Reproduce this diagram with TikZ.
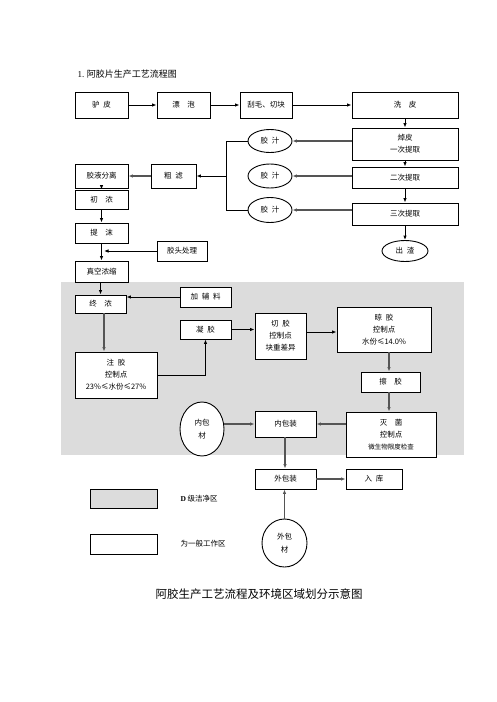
\documentclass[tikz,border=0pt]{standalone}
\usepackage{fontspec}
\setmainfont{Noto Sans CJK SC}
\newfontfamily\latf{Liberation Serif}
\usetikzlibrary{arrows.meta,shapes.geometric}
\definecolor{zone}{HTML}{DCDCDC}
\definecolor{lnk}{HTML}{555555}
\newcommand{\gp}{\hspace{0.5em}}
\tikzset{
  box/.style={draw=black,line width=0.9pt,fill=white,inner sep=1pt,align=center,
    font=\fontsize{7.5}{12}\selectfont},
  oval/.style={draw=black,line width=0.9pt,fill=white,ellipse,inner sep=0pt,align=center,
    font=\fontsize{7.5}{12}\selectfont},
  arr/.style={draw=black,line width=0.9pt,-{Latex[length=4.5pt,width=3.5pt]}},
  garr/.style={draw=lnk,line width=1.5pt,-{Latex[length=4.5pt,width=3.5pt]}},
  ln/.style={draw=black,line width=0.9pt},
}
\begin{document}
\begin{tikzpicture}[x=1pt,y=-1pt]
\useasboundingbox (0,0) rectangle (496,702);
\fill[zone] (61,282) rectangle (464,455);

\node[anchor=west,font=\fontsize{9}{11}\selectfont] (title) at (74,74) {{\latf 1.} 阿胶片生产工艺流程图};

% top row
\node[box,minimum width=53pt,minimum height=26pt] (lvpi) at (101.5,105) {驴\gp 皮};
\node[box,minimum width=53pt,minimum height=26pt] (piaopao) at (183.5,105) {漂\quad 泡};
\node[box,minimum width=52pt,minimum height=26pt] (guamao) at (266,105) {刮毛、切块};
\node[box,minimum width=106pt,minimum height=26pt] (xipi) at (405,105) {洗\quad 皮};

% right column
\node[box,minimum width=106pt,minimum height=32pt] (zhuopi) at (405,144) {焯皮\\一次提取};
\node[box,minimum width=106pt,minimum height=21pt] (erci) at (405,177.5) {二次提取};
\node[box,minimum width=106pt,minimum height=22pt] (sanci) at (405,214) {三次提取};
\node[oval,minimum width=46pt,minimum height=21pt] (chuzha) at (405,251) {出\gp 渣};

% ellipses
\node[oval,minimum width=44pt,minimum height=23pt] (jz1) at (270,141) {胶\gp 汁};
\node[oval,minimum width=44pt,minimum height=24pt] (jz2) at (270,176) {胶\gp 汁};
\node[oval,minimum width=44pt,minimum height=25pt] (jz3) at (270,210) {胶\gp 汁};

% left column
\node[box,minimum width=53pt,minimum height=24pt] (fenli) at (101.5,176) {胶液分离};
\node[box,minimum width=45pt,minimum height=24pt] (culv) at (173.5,176) {粗\gp 滤};
\node[box,minimum width=53pt,minimum height=19pt] (chunong) at (101.5,199.5) {初\quad 浓};
\node[box,minimum width=53pt,minimum height=20pt] (timo) at (101.5,233) {提\quad 沫};
\node[box,minimum width=50pt,minimum height=20pt] (jiaotou) at (182,251) {胶头处理};
\node[box,minimum width=53pt,minimum height=21pt] (zhenkong) at (101.5,271.5) {真空浓缩};
\coordinate (jt) at (104,251);

% clean zone
\node[box,minimum width=51pt,minimum height=18pt] (zhongnong) at (100.5,304) {终\quad 浓};
\node[box,minimum width=51pt,minimum height=20pt] (fuliao) at (205.5,297) {加\gp 辅\gp 料};
\node[box,minimum width=51pt,minimum height=19pt] (ningjiao) at (205.5,329.5) {凝\gp 胶};
\node[box,minimum width=82pt,minimum height=46pt] (zhujiao) at (116,375) {注\gp 胶\\控制点\\23\%≤水份≤27\%};
\node[box,minimum width=51pt,minimum height=46pt] (qiejiao) at (280.5,336) {切\gp 胶\\控制点\\块重差异};
\node[box,minimum width=94pt,minimum height=45pt] (liangjiao) at (384,329.5) {晾\gp 胶\\控制点\\水份≤14.0\%};
\node[box,minimum width=59pt,minimum height=20pt] (cajiao) at (390.5,382) {擦\quad 胶};
\node[oval,minimum width=44pt,minimum height=54pt,font=\fontsize{7.5}{13}\selectfont] (neibaocai) at (202,429) {内包\\材};
\node[box,minimum width=61pt,minimum height=26pt] (neibaozhuang) at (285.5,424) {内包装};
\node[box,minimum width=90pt,minimum height=45pt] (miejun) at (391,434.5) {灭\quad 菌\\控制点\\{\fontsize{6.5}{12}\selectfont 微生物限度检查}};
\node[box,minimum width=61pt,minimum height=20pt] (waibaozhuang) at (285.5,479) {外包装};
\node[box,minimum width=56pt,minimum height=20pt] (ruku) at (374,479) {入\gp 库};
\node[oval,minimum width=45pt,minimum height=48pt,font=\fontsize{7.5}{13}\selectfont] (waibaocai) at (284.5,543) {外包\\材};

% legend
\node[box,fill=zone,minimum width=67pt,minimum height=19pt] (lg1) at (123.5,498.5) {};
\node[box,minimum width=67pt,minimum height=20pt] (lg2) at (123.5,544) {};
\node[anchor=west,font=\fontsize{7.5}{10}\selectfont] (lt1) at (177,498.5) {{\latf\bfseries D} 级洁净区};
\node[anchor=west,font=\fontsize{7.5}{10}\selectfont] (lt2) at (177,544) {为一般工作区};

\node[font=\fontsize{11.5}{14}\selectfont] (caption) at (259,594) {阿胶生产工艺流程及环境区域划分示意图};

% connectors top
\draw[arr] (lvpi) -- (piaopao);
\draw[arr] (piaopao) -- (guamao);
\draw[arr] (guamao) -- (xipi);
\draw[arr] (xipi) -- (zhuopi);
\draw[arr] (zhuopi) -- (erci);
\draw[arr] (erci) -- (sanci);
\draw[arr] (sanci) -- (chuzha);
\draw[garr] (zhuopi.west |- jz1) -- (jz1);
\draw[garr] (erci.west |- jz2) -- (jz2);
\draw[garr] (sanci.west |- jz3) -- (jz3);
\coordinate (vt) at (226,141);
\coordinate (vb) at (226,210);
\draw[ln] (jz1.west) -- (vt) -- (vb) -- (jz3.west);
\draw[arr] (vt |- culv) -- (culv);
\draw[garr] (culv) -- (fenli);
\draw[arr] (fenli) -- (chunong);
\draw[arr] (chunong) -- (timo);
\draw[arr] (timo) -- (zhenkong);
\draw[arr] (jiaotou) -- (jt);
\draw[arr] (zhenkong.south -| zhongnong) -- (zhongnong);
\draw[arr] (fuliao) -- (zhongnong.east |- fuliao);
\draw[garr] (zhongnong.south -| 104,0) -- (zhujiao.north -| 104,0);
\draw[arr] (zhujiao.east) -| (ningjiao.south);
\draw[arr] (ningjiao) -- (qiejiao.west |- ningjiao);
\draw[arr] (qiejiao.east |- 0,332) -- (liangjiao.west |- 0,332);
\draw[garr] (liangjiao.south -| 389,0) -- (cajiao.north -| 389,0);
\draw[garr] (cajiao.south -| 389,0) -- (miejun.north -| 389,0);
\draw[garr] (neibaocai.east |- 0,424) -- (neibaozhuang.west |- 0,424);
\draw[garr] (miejun.west |- 0,424) -- (neibaozhuang.east |- 0,424);
\draw[garr] (neibaozhuang.south -| 285,0) -- (waibaozhuang.north -| 285,0);
\draw[garr] (waibaozhuang) -- (ruku);
\draw[garr] (waibaocai) -- (waibaozhuang.south -| waibaocai);
\end{tikzpicture}
\end{document}
